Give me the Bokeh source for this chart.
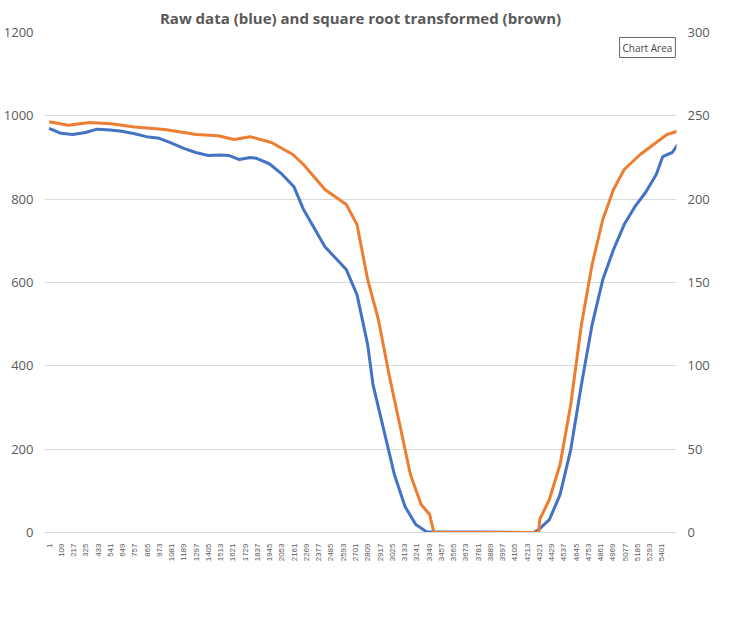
from bokeh.plotting import figure
from bokeh.models import Range1d, LinearAxis, FixedTicker, Legend, LegendItem, Label
from bokeh.embed import file_html
from bokeh.resources import INLINE

blue_px = [62,73,84,96,107,119,130,142,153,165,176,188,199,211,222,230,240,250,256,268,279,291,300,320,340,350,360,365,375,385,395,405,415,515,520,530,540,550,560,570,580,590,600,610,620,630,636,645,650,656,660,665,672,680,685,690]
blue_val = [970,958,955,960,968,966,963,957,950,946,935,922,912,905,906,905,895,900,898,885,862,830,775,686,631,571,451,355,247,139,62,19,2,0,7,31,91,199,355,499,607,679,739,782,816,859,902,912,931,936,922,943,931,926,943,948]
orange_px = [62,80,100,120,140,170,200,220,235,250,270,290,300,320,340,350,360,370,380,390,400,410,418,419,422,520,521,530,540,550,560,570,580,590,600,615,630,640,655,665,680,690]
orange_val = [246.5,244.3,246,245.3,243.5,241.8,238.8,238,235.8,237.5,234,226.8,220.8,205.8,196.8,184.8,151.8,127.8,94.8,64.8,34.8,16.8,10.8,7.9,0,0,7.9,19.8,40.8,76.8,124.8,160.8,187.8,205.8,217.8,226.8,234,238.8,241.8,243,241.3,243.5]
blue_idx = [1 + (x - 62) * 9.42 for x in blue_px]
orange_idx = [1 + (x - 62) * 9.42 for x in orange_px]
tick_labels = list(range(1, 5402, 108))

p = figure(frame_width=632, frame_height=500, output_backend="svg", toolbar_location=None,
           title="Raw data (blue) and square root transformed (brown)",
           x_range=Range1d(-40, 5530), y_range=Range1d(0, 1200), min_border_left=10, min_border_right=10)
p.title.align = "center"
p.title.text_color = "#595959"
p.title.text_font = "Open Sans"
p.title.text_font_size = "15px"
p.extra_y_ranges = {"r": Range1d(0, 300)}
p.outline_line_color = None
p.xgrid.grid_line_color = None
p.ygrid.grid_line_color = "#d9d9d9"
p.yaxis.ticker = FixedTicker(ticks=list(range(0, 1201, 200)))
ra = LinearAxis(y_range_name="r", ticker=FixedTicker(ticks=list(range(0, 301, 50))))
p.add_layout(ra, "right")
for ax in [p.yaxis[0], ra]:
    ax.axis_line_color = None
    ax.major_tick_line_color = None
    ax.minor_tick_line_color = None
    ax.major_label_text_color = "#595959"
    ax.major_label_text_font_size = "13px"
    ax.major_label_text_font = "Open Sans"
xa = p.xaxis[0]
xa.ticker = FixedTicker(ticks=tick_labels)
xa.major_label_orientation = 1.5708
xa.major_label_text_font_size = "8px"
xa.major_label_text_color = "#595959"
xa.axis_line_color = "#d9d9d9"
xa.major_tick_line_color = None
xa.minor_tick_line_color = None

b = p.line(blue_idx, blue_val, line_color="#4472C4", line_width=3)
o = p.line(orange_idx, orange_val, line_color="#ED7D31", line_width=3, y_range_name="r")
lg = Legend(items=[LegendItem(label="GL5528", renderers=[b]),
                   LegendItem(label="SQRT(62.5* GL5528)", renderers=[o])],
            orientation="horizontal", border_line_color=None,
            label_text_font_size="14px", label_text_font_style="bold",
            label_text_color="#595959", label_text_font="Open Sans", glyph_width=40,
            padding=2, margin=4)
p.add_layout(lg, "below")
p.add_layout(Label(x=5520, y=1140, x_units="data", text="Chart Area", text_font_size="10px",
                   text_align="right", border_line_color="#666666", background_fill_color="white",
                   text_font="Open Sans", padding=3))

open("out.html", "w").write(file_html(p, INLINE))
